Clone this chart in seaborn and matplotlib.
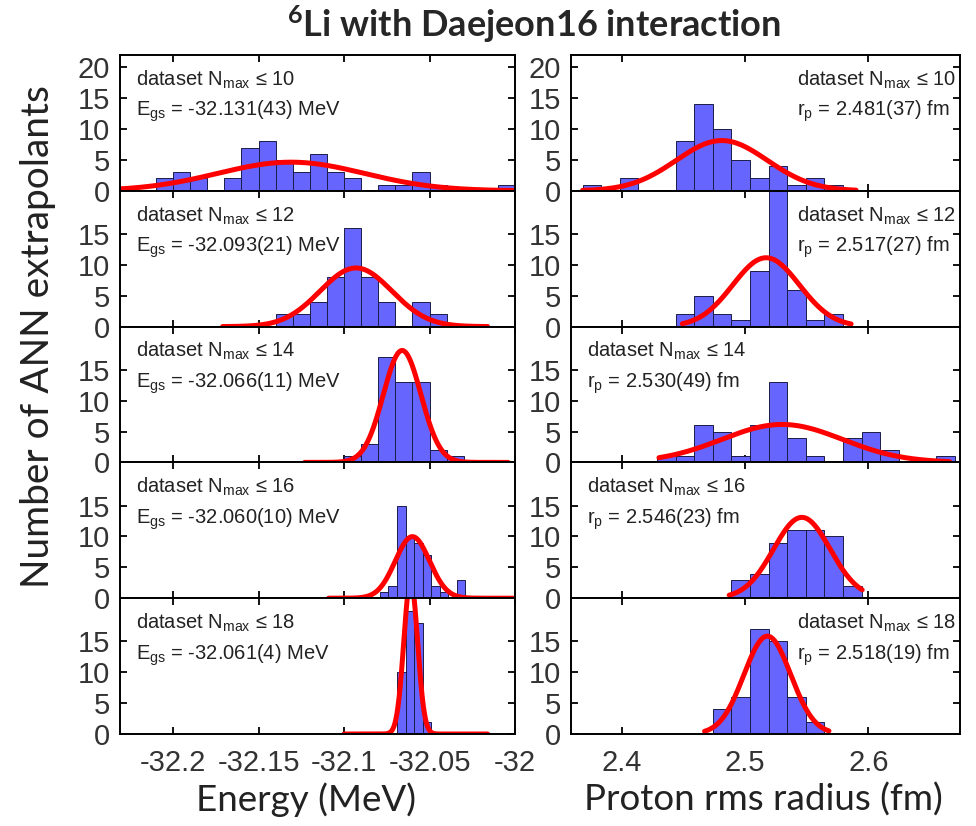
import numpy as np
import pandas as pd
import matplotlib
matplotlib.use("Agg")
import matplotlib.pyplot as plt
import seaborn as sns

# ---------------- data ----------------
title_text = r"$\mathbf{^{6}}$Li with Daejeon16 interaction"
nmax_values = [10, 12, 14, 16, 18]

# Energy panels (left column)
e_bin_start = [-32.21, -32.14, -32.10, -32.079, -32.069]
e_bin_width = [0.01, 0.01, 0.01, 0.005, 0.005]
e_counts = [
    [2, 3, 2, 0, 2, 7, 8, 5, 3, 6, 3, 2, 0, 1, 1, 3, 1, 0, 0, 0, 1],
    [2, 2, 4, 8, 16, 8, 4, 0, 4, 2],
    [1, 3, 17, 13, 13, 2, 1],
    [1, 2, 15, 10, 9, 7, 2, 1, 0, 3],
    [10, 20, 18, 2],
]
e_mean = [-32.131, -32.093, -32.066, -32.060, -32.061]
e_sigma = [0.043, 0.021, 0.011, 0.010, 0.004]
e_label = ["-32.131(43)", "-32.093(21)", "-32.066(11)", "-32.060(10)", "-32.061(4)"]
e_curve_lo = [-32.25, -32.171, -32.123, -32.109, -32.100]
e_curve_hi = [-31.98, -32.016, -32.004, -31.98, -32.016]
e_ticks = [-32.2, -32.15, -32.1, -32.05, -32.0]
e_ticklabels = ["-32.2", "-32.15", "-32.1", "-32.05", "-32"]

# Radius panels (right column) - common bin grid
r_bin_start = 2.368
r_bin_width = 0.0151
r_counts = [
    [1, 0, 2, 0, 0, 8, 14, 10, 5, 2, 4, 1, 2, 1, 0, 0, 0, 0, 0, 0],
    [0, 0, 0, 0, 0, 2, 5, 2, 1, 9, 22, 6, 1, 2, 0, 0, 0, 0, 0, 0],
    [0, 0, 0, 0, 1, 1, 6, 5, 1, 6, 13, 4, 1, 0, 4, 5, 2, 0, 0, 1],
    [0, 0, 0, 0, 0, 0, 0, 0, 3, 4, 9, 11, 11, 10, 2, 0, 0, 0, 0, 0],
    [0, 0, 0, 0, 0, 0, 0, 4, 6, 17, 15, 6, 2, 0, 0, 0, 0, 0, 0, 0],
]
r_mean = [2.481, 2.517, 2.530, 2.546, 2.518]
r_sigma = [0.037, 0.027, 0.049, 0.023, 0.019]
r_label = ["2.481(37)", "2.517(27)", "2.530(49)", "2.546(23)", "2.518(19)"]
r_curve_lo = [2.368, 2.449, 2.430, 2.487, 2.467]
r_curve_hi = [2.590, 2.586, 2.666, 2.595, 2.568]
r_ticks = [2.4, 2.5, 2.6]
r_ticklabels = ["2.4", "2.5", "2.6"]
r_text_right = [True, True, False, False, True]

n_samples = 50

# ---------------- style ----------------
sns.set_style("ticks")
plt.rcParams["font.family"] = ["Liberation Sans", "DejaVu Sans"]
plt.rcParams["mathtext.fontset"] = "custom"
plt.rcParams["mathtext.rm"] = "Liberation Sans"
plt.rcParams["mathtext.it"] = "Liberation Sans:italic"
plt.rcParams["mathtext.bf"] = "Lato:bold"
plt.rcParams["axes.linewidth"] = 1.4

bar_color = "#6666ff"
bar_edge = "#1c1c48"

fig = plt.figure(figsize=(9.76, 8.26), dpi=100)
W, H = 976, 826

left_x0, left_x1 = 120, 515
right_x0, right_x1 = 571, 960
top_px, bot_px = 55, 734
row_h = (bot_px - top_px) / 5

ann_size = 14.5


def style_axes(ax, is_top, is_bottom):
    ax.set_ylim(0, 22)
    ax.set_yticks([0, 5, 10, 15, 20] if is_top else [0, 5, 10, 15])
    ax.tick_params(direction="in", top=True, right=True, length=5, width=1.3,
                   labelsize=21, pad=7, colors="black")
    ax.tick_params(axis="x", pad=11)
    if not is_bottom:
        ax.tick_params(axis="x", labelbottom=False)
    ax.set_xlabel("")
    ax.set_ylabel("")
    for s in ax.spines.values():
        s.set_color("black")
        s.set_linewidth(1.4)
    for lab in ax.get_yticklabels() + ax.get_xticklabels():
        lab.set_color("#333333")


def draw_panel(ax, edges, counts, mean, sigma, lo, hi, width):
    centers = (edges[:-1] + edges[1:]) / 2
    df = pd.DataFrame({"x": centers, "w": counts})
    sns.histplot(data=df, x="x", weights="w", bins=list(edges), ax=ax,
                 color=bar_color, alpha=1.0, edgecolor=bar_edge, linewidth=0.7)
    xs = np.linspace(lo, hi, 400)
    ys = n_samples * width / (sigma * np.sqrt(2 * np.pi)) * np.exp(-0.5 * ((xs - mean) / sigma) ** 2)
    sns.lineplot(x=xs, y=ys, ax=ax, color="red", lw=3.6, sort=False)


for i in range(5):
    y0 = 1 - (top_px + (i + 1) * row_h) / H
    h = row_h / H
    is_top = i == 0
    is_bottom = i == 4

    # ---- energy ----
    axl = fig.add_axes([left_x0 / W, y0, (left_x1 - left_x0) / W, h])
    cnt = np.array(e_counts[i], dtype=float)
    edges = e_bin_start[i] + e_bin_width[i] * np.arange(len(cnt) + 1)
    draw_panel(axl, edges, cnt, e_mean[i], e_sigma[i], e_curve_lo[i], e_curve_hi[i], e_bin_width[i])
    axl.set_xlim(-32.231, -32.0)
    axl.set_xticks(e_ticks)
    axl.set_xticklabels(e_ticklabels)
    style_axes(axl, is_top, is_bottom)
    axl.text(0.04, 0.775, r"dataset N$_{\mathrm{max}}$ ≤ %d" % nmax_values[i],
             transform=axl.transAxes, fontsize=ann_size, color="#222222", va="baseline", ha="left")
    axl.text(0.04, 0.55, r"E$_{\mathrm{gs}}$ = %s MeV" % e_label[i],
             transform=axl.transAxes, fontsize=ann_size, color="#222222", va="baseline", ha="left")

    # ---- radius ----
    axr = fig.add_axes([right_x0 / W, y0, (right_x1 - right_x0) / W, h])
    cnt = np.array(r_counts[i], dtype=float)
    edges = r_bin_start + r_bin_width * np.arange(len(cnt) + 1)
    draw_panel(axr, edges, cnt, r_mean[i], r_sigma[i], r_curve_lo[i], r_curve_hi[i], r_bin_width)
    axr.set_xlim(2.3586, 2.6744)
    axr.set_xticks(r_ticks)
    axr.set_xticklabels(r_ticklabels)
    style_axes(axr, is_top, is_bottom)
    tx = 0.58 if r_text_right[i] else 0.04
    axr.text(tx, 0.775, r"dataset N$_{\mathrm{max}}$ ≤ %d" % nmax_values[i],
             transform=axr.transAxes, fontsize=ann_size, color="#222222", va="baseline", ha="left")
    axr.text(tx, 0.55, r"r$_{\mathrm{p}}$ = %s fm" % r_label[i],
             transform=axr.transAxes, fontsize=ann_size, color="#222222", va="baseline", ha="left")

# ---- figure texts ----
fig.text(534 / W, 1 - 24 / H, title_text, ha="center", va="center",
         fontsize=26, fontweight="bold", family=["Lato", "DejaVu Sans"])
fig.text(38 / W, 1 - 337 / H, "Number of ANN extrapolants", rotation=90,
         ha="center", va="center", fontsize=28, family=["Lato", "DejaVu Sans"], color="#222222")
fig.text(306 / W, 1 - 800 / H, "Energy (MeV)", ha="center", va="center",
         fontsize=26.5, family=["Lato", "DejaVu Sans"], color="#222222")
fig.text(763 / W, 1 - 800 / H, "Proton rms radius (fm)", ha="center", va="center",
         fontsize=26.5, family=["Lato", "DejaVu Sans"], color="#222222")

fig.savefig("out.png", dpi=100, facecolor="white")
